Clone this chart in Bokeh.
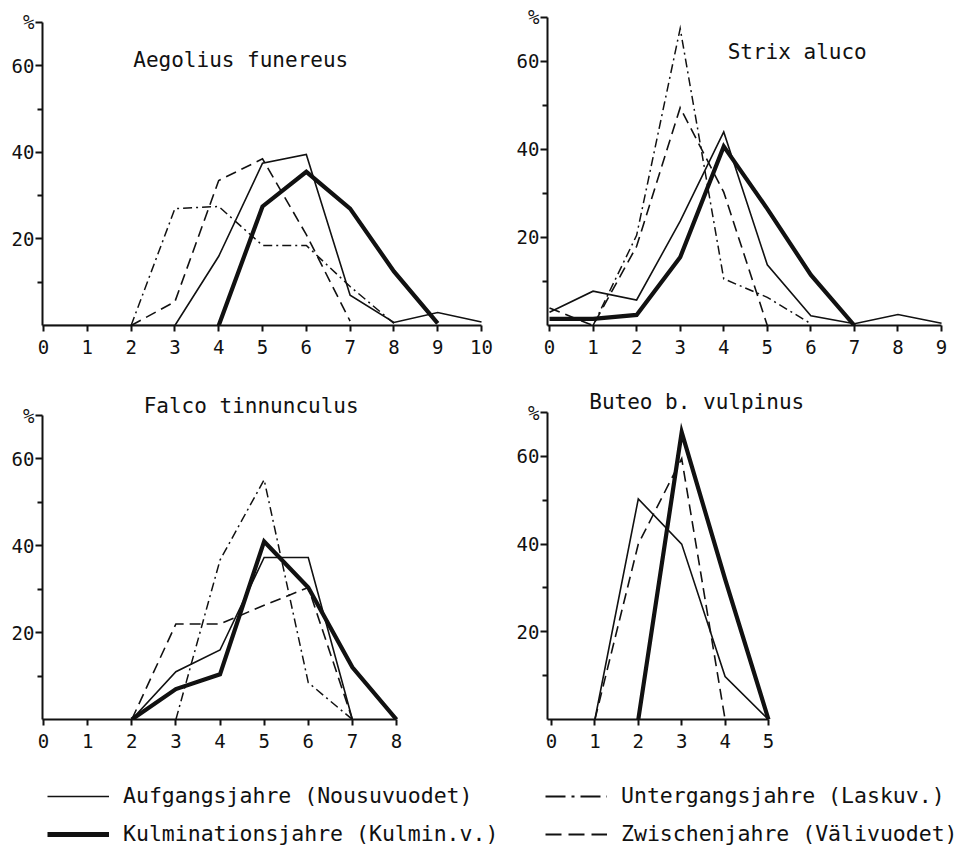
from bokeh.plotting import figure
from bokeh.models import Range1d, FixedTicker, Label, Legend, LegendItem
from bokeh.layouts import column, row
from bokeh.embed import file_html
from bokeh.resources import INLINE

# ---------------- data (percent of broods by clutch size) ----------------
# Aegolius funereus
aeg_auf_x = [0, 1, 2, 3, 4, 5, 6, 7, 8, 9, 10]
aeg_auf_y = [0, 0, 0, 0, 16, 37.5, 39.5, 7, 0.7, 3, 0.8]
aeg_kul_x = [4, 5, 6, 7, 8, 9]
aeg_kul_y = [0, 27.5, 35.5, 27, 12.5, 0.5]
aeg_unt_x = [2, 3, 4, 5, 6, 7, 8]
aeg_unt_y = [0, 27, 27.5, 18.5, 18.5, 9, 0.5]
aeg_zw_x = [2, 3, 4, 5, 6, 7]
aeg_zw_y = [0, 5.5, 33.5, 38.5, 21, 1]

# Strix aluco
str_auf_x = [0, 1, 2, 3, 4, 5, 6, 7, 8, 9]
str_auf_y = [3, 7.8, 5.8, 23.7, 44, 13.8, 2.2, 0.4, 2.5, 0.5]
str_kul_x = [0, 1, 2, 3, 4, 5, 6, 7]
str_kul_y = [1.5, 1.5, 2.4, 15.5, 40.7, 26.5, 11.5, 0]
str_unt_x = [1, 2, 3, 4, 5, 6]
str_unt_y = [0, 20.5, 67.5, 10.6, 6.4, 0.4]
str_zw_x = [0, 1, 2, 3, 4, 5]
str_zw_y = [4, 0, 18, 49.5, 30.3, 0]

# Falco tinnunculus
fal_auf_x = [2, 3, 4, 5, 6, 7]
fal_auf_y = [0, 11, 16, 37.3, 37.3, 0]
fal_kul_x = [2, 3, 4, 5, 6, 7, 8]
fal_kul_y = [0, 7, 10.4, 41, 30.4, 12, 0]
fal_unt_x = [3, 4, 5, 6, 7]
fal_unt_y = [0, 36.7, 55.2, 8.5, 0]
fal_zw_x = [2, 3, 4, 5, 6, 7]
fal_zw_y = [0, 22, 22, 26.3, 30.4, 0]

# Buteo b. vulpinus
but_auf_x = [1, 2, 3, 4, 5]
but_auf_y = [0, 50.3, 40, 9.8, 0]
but_kul_x = [2, 3, 4, 5]
but_kul_y = [0, 65.5, 32, 0]
but_zw_x = [1, 2, 3, 4]
but_zw_y = [0, 40, 59.5, 0]

titles = ["Aegolius funereus", "Strix aluco", "Falco tinnunculus", "Buteo b. vulpinus"]
y_major = [20, 40, 60, 70]
y_minor = [10, 30, 50]
y_overrides = {70: "%"}
legend_labels = {
    "auf": "Aufgangsjahre (Nousuvuodet)",
    "kul": "Kulminationsjahre (Kulmin.v.)",
    "unt": "Untergangsjahre (Laskuv.)",
    "zw": "Zwischenjahre (Välivuodet)",
}

# ---------------- styling ----------------
FONT = "DejaVu Sans Mono"
INK = "#111111"
STYLES = {
    "auf": dict(line_width=1.6, line_dash="solid"),
    "kul": dict(line_width=4.2, line_dash="solid"),
    "unt": dict(line_width=1.5, line_dash="9 4 2 4"),
    "zw": dict(line_width=1.6, line_dash="11 6"),
}

W_L, W_R = 495, 475
H1, H2, LH = 378, 382, 86


def make_panel(title, series, xmax, width, height, mb_left, mb_top, mb_bottom,
               xr, y_end, title_xy):
    p = figure(width=width, height=height, output_backend="svg", toolbar_location=None,
               x_range=Range1d(*xr), y_range=Range1d(0, y_end),
               min_border_left=mb_left, min_border_right=5,
               min_border_top=mb_top, min_border_bottom=mb_bottom)
    p.outline_line_color = None
    p.xgrid.visible = False
    p.ygrid.visible = False
    p.background_fill_color = "white"
    p.border_fill_color = "white"

    for xs, ys, key in series:
        p.line(xs, ys, line_color=INK, line_join="miter", **STYLES[key])

    xa = p.xaxis[0]
    xa.ticker = FixedTicker(ticks=list(range(0, xmax + 1)))
    xa.bounds = (xr[0], xmax)
    xa.axis_line_width = 2
    xa.axis_line_color = INK
    xa.major_tick_line_width = 2
    xa.major_tick_line_color = INK
    xa.major_tick_in = 0
    xa.major_tick_out = 6
    xa.minor_tick_in = 0
    xa.minor_tick_out = 0
    xa.major_label_standoff = 8
    xa.major_label_text_font = FONT
    xa.major_label_text_font_size = "19px"
    xa.major_label_text_color = INK

    ya = p.yaxis[0]
    ya.ticker = FixedTicker(ticks=y_major, minor_ticks=y_minor)
    ya.major_label_overrides = y_overrides
    ya.bounds = (0, 70)
    ya.axis_line_width = 2
    ya.axis_line_color = INK
    ya.major_tick_line_width = 2
    ya.major_tick_line_color = INK
    ya.minor_tick_line_width = 2
    ya.minor_tick_line_color = INK
    ya.major_tick_in = 0
    ya.major_tick_out = 7
    ya.minor_tick_in = 0
    ya.minor_tick_out = 5
    ya.major_label_standoff = 1
    ya.major_label_text_font = FONT
    ya.major_label_text_font_size = "19px"
    ya.major_label_text_color = INK

    p.add_layout(Label(x=title_xy[0], y=title_xy[1], text=title,
                       text_font=FONT, text_font_size="21px", text_color=INK,
                       text_align="left", text_baseline="middle"))
    return p


p1 = make_panel(titles[0],
                [(aeg_auf_x, aeg_auf_y, "auf"), (aeg_kul_x, aeg_kul_y, "kul"),
                 (aeg_unt_x, aeg_unt_y, "unt"), (aeg_zw_x, aeg_zw_y, "zw")],
                10, W_L, H1, 42, 10, 53, (-0.023, 10.205), 72.77, (2.05, 61.3))
p2 = make_panel(titles[1],
                [(str_auf_x, str_auf_y, "auf"), (str_kul_x, str_kul_y, "kul"),
                 (str_unt_x, str_unt_y, "unt"), (str_zw_x, str_zw_y, "zw")],
                9, W_R, H1, 52, 10, 53, (-0.046, 9.55), 71.59, (4.09, 62.2))
p3 = make_panel(titles[2],
                [(fal_auf_x, fal_auf_y, "auf"), (fal_kul_x, fal_kul_y, "kul"),
                 (fal_unt_x, fal_unt_y, "unt"), (fal_zw_x, fal_zw_y, "zw")],
                8, W_L, H2, 42, 12, 41, (-0.023, 10.13), 75.76, (2.27, 72.3))
p4 = make_panel(titles[3],
                [(but_auf_x, but_auf_y, "auf"), (but_kul_x, but_kul_y, "kul"),
                 (but_zw_x, but_zw_y, "zw")],
                5, W_R, H2, 52, 12, 41, (-0.092, 9.539), 75.02, (0.87, 72.3))

# ---------------- legend ----------------
pl = figure(width=W_L + W_R, height=LH, output_backend="svg", toolbar_location=None,
            x_range=Range1d(0, 1), y_range=Range1d(0, 1),
            x_axis_type=None, y_axis_type=None, min_border=0)
pl.outline_line_color = None
pl.grid.visible = False

proxy_styles = {
    "auf": dict(line_width=1.6, line_dash="solid"),
    "kul": dict(line_width=5, line_dash="solid"),
    "unt": dict(line_width=2, line_dash="20 6 3 6"),
    "zw": dict(line_width=2, line_dash="16 7"),
}
nan = float("nan")
proxies = {k: pl.line(x=[nan, nan], y=[nan, nan], line_color=INK, **proxy_styles[k])
           for k in proxy_styles}


def make_legend(keys, vx):
    return Legend(items=[LegendItem(label=legend_labels[k], renderers=[proxies[k]]) for k in keys],
                  location=(vx, 0), orientation="vertical",
                  glyph_width=62, glyph_height=24, label_height=24, label_standoff=14,
                  spacing=13, padding=0, margin=0,
                  border_line_alpha=0, background_fill_alpha=0,
                  label_text_font=FONT, label_text_font_size="21.5px", label_text_color=INK)


pl.add_layout(make_legend(["auf", "kul"], 47))
pl.add_layout(make_legend(["unt", "zw"], 545))

layout = column(row(p1, p2), row(p3, p4), pl)
open("out.html", "w").write(file_html(layout, INLINE))
